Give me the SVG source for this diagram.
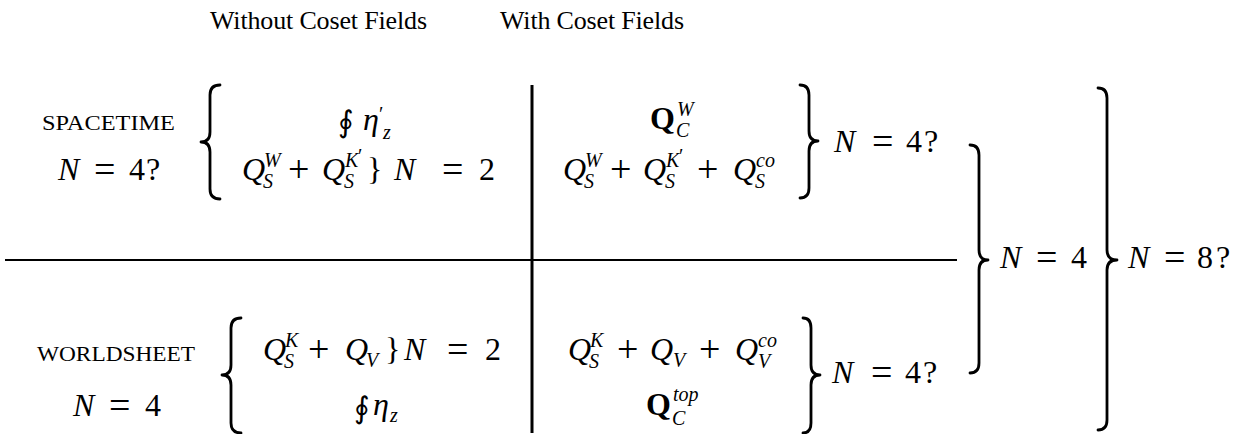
<svg xmlns="http://www.w3.org/2000/svg" width="1252" height="434" viewBox="0 0 1252 434">
<style>
text{font-family:"Liberation Serif","DejaVu Serif",serif;fill:#000}
.t{font-size:26px}
.sc{font-size:20px}
.m{font-size:32px}
.i{font-style:italic}
.s{font-size:20px}
.b{font-weight:bold}
.op{font-size:38px}
.oint{font-family:"DejaVu Serif",serif;font-size:30px}
.br{fill:none;stroke:#000;stroke-width:2.8;stroke-linecap:round;stroke-linejoin:round}
.rule{stroke:#000;fill:none}
</style>
<rect width="1252" height="434" fill="#fff"/>
<g id="headers">
<text class="t" x="210" y="29" textLength="217">Without Coset Fields</text>
<text class="t" x="500" y="29" textLength="184">With Coset Fields</text>
</g>
<g id="spacetime">
<text class="sc" x="42" y="130" textLength="133" lengthAdjust="spacingAndGlyphs">SPACETIME</text>
<text class="m" y="180"><tspan class="i" x="58">N</tspan><tspan class="op" x="94" y="182">=</tspan><tspan x="129" y="180">4</tspan><tspan x="146">?</tspan></text>
</g>
<g id="worldsheet">
<text class="sc" x="37" y="361" textLength="158" lengthAdjust="spacingAndGlyphs">WORLDSHEET</text>
<text class="m" y="416"><tspan class="i" x="73">N</tspan><tspan class="op" x="109" y="418">=</tspan><tspan x="145" y="416">4</tspan></text>
</g>
<g id="cell-st-without">
<text class="oint" x="338" y="132">∮</text>
<text class="m i" x="363" y="130">η</text>
<text class="s" x="379" y="121">′</text>
<text class="s i" x="383" y="139">z</text>
<text class="m" y="180"><tspan class="i" x="242">Q</tspan><tspan class="op" x="288" y="182">+</tspan><tspan class="i" x="322" y="180">Q</tspan><tspan x="367">}</tspan><tspan class="i" x="394">N</tspan><tspan class="op" x="442" y="182">=</tspan><tspan x="479" y="180">2</tspan></text>
<text class="s i"><tspan x="264" y="167">W</tspan><tspan x="263" y="188">S</tspan><tspan x="345" y="167">K</tspan><tspan x="344" y="188">S</tspan></text>
<text class="s" x="358" y="163">′</text>
</g>
<g id="cell-ws-without">
<text class="m" y="360"><tspan class="i" x="263">Q</tspan><tspan class="op" x="308" y="362">+</tspan><tspan class="i" x="345" y="360">Q</tspan><tspan x="385">}</tspan><tspan class="i" x="404">N</tspan><tspan class="op" x="447" y="362">=</tspan><tspan x="485" y="360">2</tspan></text>
<text class="s i"><tspan x="285" y="347">K</tspan><tspan x="284" y="368">S</tspan><tspan x="366" y="367">V</tspan></text>
<text class="oint" x="354" y="418">∮</text>
<text class="m i" x="373" y="415">η</text>
<text class="s i" x="390" y="422">z</text>
</g>
<g id="cell-st-with">
<text class="m b" x="650" y="129">Q</text>
<text class="s i"><tspan x="677" y="116">W</tspan><tspan x="676" y="137">C</tspan></text>
<text class="m" y="180"><tspan class="i" x="563">Q</tspan><tspan class="op" x="610" y="182">+</tspan><tspan class="i" x="643" y="180">Q</tspan><tspan class="op" x="697" y="182">+</tspan><tspan class="i" x="733" y="180">Q</tspan></text>
<text class="s i"><tspan x="585" y="167">W</tspan><tspan x="584" y="188">S</tspan><tspan x="666" y="167">K</tspan><tspan x="665" y="188">S</tspan><tspan x="756" y="167">co</tspan><tspan x="755" y="188">S</tspan></text>
<text class="s" x="679" y="163">′</text>
<text class="m" y="152"><tspan class="i" x="834">N</tspan><tspan class="op" x="872" y="154">=</tspan><tspan x="906" y="152">4</tspan><tspan x="924">?</tspan></text>
</g>
<g id="cell-ws-with">
<text class="m" y="360"><tspan class="i" x="568">Q</tspan><tspan class="op" x="617" y="362">+</tspan><tspan class="i" x="650" y="360">Q</tspan><tspan class="op" x="699" y="362">+</tspan><tspan class="i" x="735" y="360">Q</tspan></text>
<text class="s i"><tspan x="590" y="347">K</tspan><tspan x="589" y="368">S</tspan><tspan x="673" y="367">V</tspan><tspan x="758" y="347">co</tspan><tspan x="758" y="368">V</tspan></text>
<text class="m b" x="646" y="415">Q</text>
<text class="s i"><tspan x="673" y="401">top</tspan><tspan x="672" y="425">C</tspan></text>
<text class="m" y="383"><tspan class="i" x="832">N</tspan><tspan class="op" x="871" y="385">=</tspan><tspan x="905" y="383">4</tspan><tspan x="923">?</tspan></text>
</g>
<g id="total-n4">
<text class="m" y="268"><tspan class="i" x="1000">N</tspan><tspan class="op" x="1036" y="270">=</tspan><tspan x="1071" y="268">4</tspan></text>
</g>
<g id="total-n8">
<text class="m" y="268"><tspan class="i" x="1128">N</tspan><tspan class="op" x="1164" y="270">=</tspan><tspan x="1197" y="268">8</tspan><tspan x="1216">?</tspan></text>
</g>
<g id="connectors">
<line class="rule" x1="5" y1="260" x2="957" y2="260" stroke-width="2"/>
<line class="rule" x1="532" y1="85" x2="532" y2="433" stroke-width="3"/>
<path class="br" d="M220 85 Q210 85 210 95 L210 132 Q210 142 201 142 Q210 142 210 152 L210 189 Q210 199 220 199"/>
<path class="br" d="M241 318 Q231 318 231 328 L231 365 Q231 375 222 375 Q231 375 231 385 L231 423 Q231 433 241 433"/>
<path class="br" d="M800 85 Q809 85 809 95 L809 131 Q809 141 818 141 Q809 141 809 151 L809 188 Q809 198 800 198"/>
<path class="br" d="M803 318 Q811 318 811 328 L811 365 Q811 375 820 375 Q811 375 811 385 L811 423 Q811 433 803 433"/>
<path class="br" d="M970 145 Q979 145 979 155 L979 250 Q979 260 988 260 Q979 260 979 270 L979 363 Q979 373 970 373"/>
<path class="br" d="M1098 88 Q1107 88 1107 98 L1107 250 Q1107 260 1117 260 Q1107 260 1107 270 L1107 420 Q1107 430 1098 430"/>
</g>
</svg>
